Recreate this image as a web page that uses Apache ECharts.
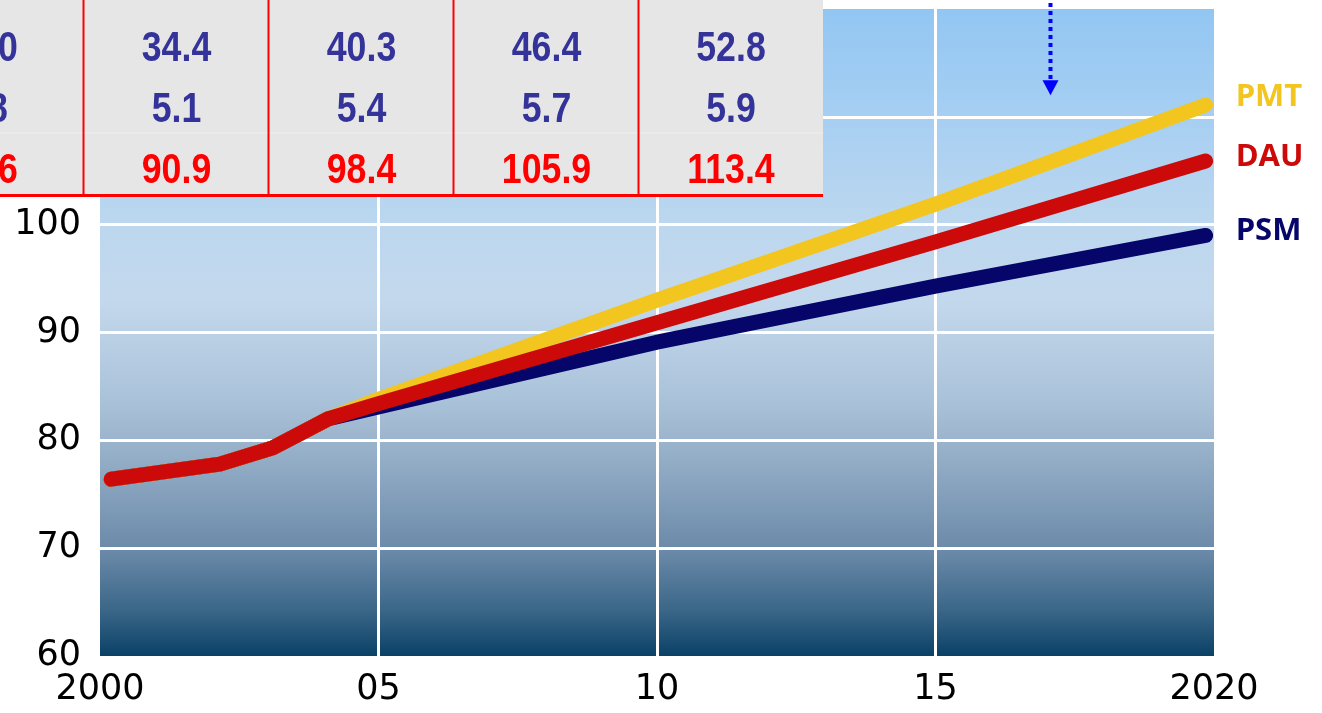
<!DOCTYPE html>
<html>
<head>
<meta charset="utf-8">
<script src="https://cdn.jsdelivr.net/npm/echarts@6/dist/echarts.min.js"></script>
<style>
  html, body { margin: 0; padding: 0; background: #ffffff; }
  #chart { width: 1322px; height: 713px; }
</style>
</head>
<body>
<div id="chart"></div>
<script>
// Years at which each projection line has a vertex
const years = [2000.2, 2002.15, 2003.1, 2004.1, 2005, 2010, 2015, 2019.85];

// Projection series (shared history up to 2004, then diverging)
const pmt = [76.4, 77.8, 79.3, 82.0, 83.8, 93.0, 101.9, 111.1];
const dau = [76.4, 77.8, 79.3, 82.0, 83.4, 90.9, 98.4, 105.9];
const psm = [76.4, 77.8, 79.3, 82.0, 83.1, 89.1, 94.3, 99.0];

// Axis ticks
const yTicks = [60, 70, 80, 90, 100];
const xTicks = [2000, 2005, 2010, 2015, 2020];

// Marker arrow: year and the value its tip points to
const arrowYear = 2017.05;
const arrowTipValue = 112.0;

// Summary table rows (leftmost column runs off the page edge)
const tableRowA = ['28.0', '34.4', '40.3', '46.4', '52.8'];
const tableRowB = ['4.8', '5.1', '5.4', '5.7', '5.9'];
const tableRowC = ['83.6', '90.9', '98.4', '105.9', '113.4'];

const C_PMT = '#f2c61f';
const C_DAU = '#cc0a0a';
const C_PSM = '#06066a';

const toPairs = (vals) => years.map((y, i) => [y, vals[i]]);

const chart = echarts.init(document.getElementById('chart'), null, { renderer: 'canvas' });

function lineSeries(name, vals, color, labelOffset, z) {
  return {
    name: name,
    type: 'line',
    data: toPairs(vals),
    symbol: 'none',
    z: z,
    lineStyle: { color: color, width: 15, cap: 'round', join: 'round' },
    itemStyle: { color: color },
    endLabel: {
      show: true,
      formatter: '{a}',
      distance: 30,
      offset: labelOffset,
      color: color,
      fontFamily: 'Open Sans',
      fontWeight: 'bold',
      fontSize: 31
    },
    emphasis: { disabled: true }
  };
}

const option = {
  animation: false,
  grid: {
    left: 100, right: 108, top: 9, bottom: 57,
    show: true,
    borderWidth: 0,
    backgroundColor: {
      type: 'linear', x: 0, y: 0, x2: 0, y2: 1,
      colorStops: [
        { offset: 0.00, color: '#92c6f2' },
        { offset: 0.17, color: '#a7cff2' },
        { offset: 0.33, color: '#bcd7ef' },
        { offset: 0.45, color: '#c3d8ec' },
        { offset: 0.60, color: '#abc3da' },
        { offset: 0.68, color: '#98b1ca' },
        { offset: 0.84, color: '#6a89a8' },
        { offset: 0.93, color: '#3a6688' },
        { offset: 1.00, color: '#0a4166' }
      ]
    }
  },
  xAxis: {
    type: 'value',
    min: 2000, max: 2020, interval: 5,
    axisLine: { show: false },
    axisTick: { show: false },
    axisLabel: {
      margin: 16,
      color: '#000000',
      fontFamily: 'DejaVu Sans',
      fontSize: 35,
      formatter: (v) => (v === xTicks[0] || v === xTicks[xTicks.length - 1]) ? String(v) : String(v).slice(2)
    },
    splitLine: {
      show: true, showMinLine: false, showMaxLine: false,
      lineStyle: { color: '#ffffff', width: 3 }
    }
  },
  yAxis: {
    type: 'value',
    min: 60, max: 120, interval: 10,
    axisLine: { show: false },
    axisTick: { show: false },
    axisLabel: {
      margin: 19,
      color: '#000000',
      fontFamily: 'DejaVu Sans',
      fontSize: 35,
      formatter: (v) => yTicks.indexOf(v) >= 0 ? String(v) : ''
    },
    splitLine: {
      show: true, showMinLine: false, showMaxLine: false,
      lineStyle: { color: '#ffffff', width: 3 }
    }
  },
  series: [
    lineSeries('PSM', psm, C_PSM, [0, -4], 2),
    lineSeries('PMT', pmt, C_PMT, [0, -8], 3),
    lineSeries('DAU', dau, C_DAU, [0, -4], 4)
  ]
};

chart.setOption(option);

// Summary table panel drawn over the upper-left corner
const colCenters = [-17, 176.5, 361.5, 546.5, 731];
const rowCenters = [49, 110, 171];
const dividers = [83.5, 268.5, 453.5, 638.5];
const tableW = 823, tableH = 195;

const tableEls = [
  { type: 'rect', shape: { x: 0, y: 0, width: tableW, height: tableH }, style: { fill: '#e6e6e6' }, z: 100 },
  { type: 'line', shape: { x1: 0, y1: 133, x2: tableW, y2: 133 }, style: { stroke: '#efefef', lineWidth: 1 }, z: 101 }
];
dividers.forEach((dx) => {
  tableEls.push({ type: 'line', shape: { x1: dx, y1: 0, x2: dx, y2: tableH }, style: { stroke: '#ff0000', lineWidth: 2 }, z: 102 });
});
tableEls.push({ type: 'line', shape: { x1: 0, y1: 195.5, x2: tableW, y2: 195.5 }, style: { stroke: '#ff0000', lineWidth: 3 }, z: 102 });

[[tableRowA, '#333399'], [tableRowB, '#333399'], [tableRowC, '#ff0000']].forEach(([row, color], ri) => {
  row.forEach((txt, ci) => {
    tableEls.push({
      type: 'text',
      x: colCenters[ci], y: rowCenters[ri],
      scaleX: 0.85,
      z: 103,
      style: {
        text: txt, x: 0, y: 0,
        align: 'center', verticalAlign: 'middle',
        fill: color,
        font: 'bold 42px "Liberation Sans", Arial, sans-serif'
      }
    });
  });
});

// Dotted arrow marking a year near the top of the plot
const tip = chart.convertToPixel({ gridIndex: 0 }, [arrowYear, arrowTipValue]);
const ax = Math.round(tip[0]) + 0.5;
const ay = tip[1];
tableEls.push({
  type: 'line',
  shape: { x1: ax, y1: 3, x2: ax, y2: ay - 14 },
  style: { stroke: '#0000ff', lineWidth: 4, lineDash: [4, 4] },
  z: 104
});
tableEls.push({
  type: 'polygon',
  shape: { points: [[ax - 8, ay - 15], [ax + 8, ay - 15], [ax, ay]] },
  style: { fill: '#0000ff' },
  z: 104
});

chart.setOption({ graphic: { elements: tableEls } });
</script>
</body>
</html>
